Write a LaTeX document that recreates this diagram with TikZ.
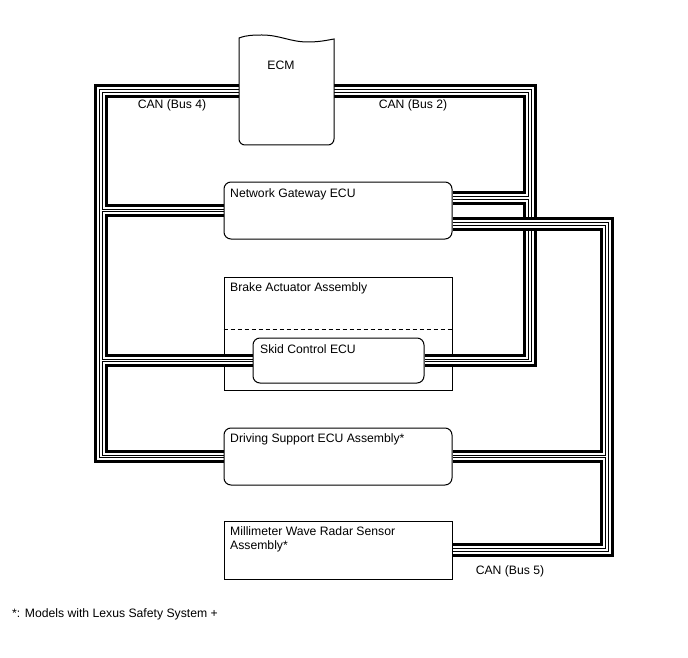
\documentclass[tikz,border=0pt]{standalone}
\usepackage{fontspec}
\setmainfont{Liberation Sans}
\newcommand\drawbus[1]{\foreach \lw/\lc in {13.4/black,7.4/white,3.4/black,1.2/white}{\draw[line width=\lw pt,draw=\lc] #1;}}
\begin{document}
\begin{tikzpicture}[x=1pt,y=-1pt,
  txt/.style={inner sep=0pt, font=\fontsize{12.2}{14}\selectfont},
  sqbox/.style={draw, line width=1pt, inner sep=0pt},
  rbox/.style={draw, line width=1pt, fill=white, rounded corners=7pt, inner sep=0pt}]
\useasboundingbox (0,0) rectangle (688,658);

% anchor nodes (invisible) for ECM
\node[inner sep=0pt, minimum width=95pt, minimum height=107pt] (ecm) at (286.5,91.5) {};

% brake actuator box (drawn below cables)
\node[sqbox, minimum width=228pt, minimum height=113pt] (brake) at (338,333.5) {};
\draw[line width=0.8pt, dash pattern=on 4pt off 3pt] (brake.west |- 0,329) -- (brake.east |- 0,329);

% node frames for boxes
\node[rbox, minimum width=228pt, minimum height=57pt, draw=none, fill=none] (gw) at (338,210.5) {};
\node[rbox, minimum width=171pt, minimum height=45pt, draw=none, fill=none] (skid) at (338.5,360.5) {};
\node[rbox, minimum width=228pt, minimum height=57pt, draw=none, fill=none] (ds) at (338,456.5) {};
\node[sqbox, minimum width=228pt, minimum height=58pt, draw=none] (mw) at (338,550) {};

\coordinate (b4t) at (101,91);
\coordinate (b4b) at (101,456.5);
\coordinate (b2t) at (530,91);
\coordinate (b2b) at (530,360.5);
\coordinate (b5t) at (607,224);
\coordinate (b5b) at (607,550);

% CAN Bus 4
\drawbus{(ecm.west |- b4t) -- (b4t) -- (b4b) -- (ds.west) (b4t |- gw.west) -- (gw.west) (b4t |- skid.west) -- (skid.west)}
% CAN Bus 2
\drawbus{(ecm.east |- b2t) -- (b2t) -- (b2b) -- (skid.east) (b2t |- 0,198) -- (gw.east |- 0,198)}
% CAN Bus 5
\drawbus{(gw.east |- b5t) -- (b5t) -- (b5b) -- (mw.east) (b5t |- ds.east) -- (ds.east)}

% ECM shape
\draw[line width=1pt, fill=white] (239,38) .. controls (247,35) and (254,35) .. (262,35) .. controls (280,35) and (290,42) .. (308,42) .. controls (320,42) and (328,40) .. (334,39) {[rounded corners=6pt] -- (334,145) -- (239,145)} -- cycle;

% boxes
\node[rbox, minimum width=228pt, minimum height=57pt] at (gw) {};
\node[rbox, minimum width=171pt, minimum height=45pt] at (skid) {};
\node[rbox, minimum width=228pt, minimum height=57pt] at (ds) {};
\node[sqbox, fill=white, minimum width=228pt, minimum height=58pt] at (mw) {};

% texts
\node[txt, anchor=base] (ecmt) at (281,70) {ECM};
\node[txt, anchor=base] (l4) at (172,109) {CAN (Bus 4)};
\node[txt, anchor=base] (l2) at (413,109) {CAN (Bus 2)};
\node[txt, anchor=base] (l5) at (510,574) {CAN (Bus 5)};
\node[txt, anchor=base west] (gwt) at (230,197) {Network Gateway ECU};
\node[txt, anchor=base west] (bt) at (230,291) {Brake Actuator Assembly};
\node[txt, anchor=base west] (st) at (260,353) {Skid Control ECU};
\node[txt, anchor=base west] (dt) at (230,442) {Driving Support ECU Assembly*};
\node[txt, anchor=base west] (mt1) at (230,535) {Millimeter Wave Radar Sensor};
\node[txt, anchor=base west] (mt2) at (230,549) {Assembly*};
\node[txt, anchor=base west] (fn) at (12,617) {*: Models with Lexus Safety System +};
\end{tikzpicture}
\end{document}
